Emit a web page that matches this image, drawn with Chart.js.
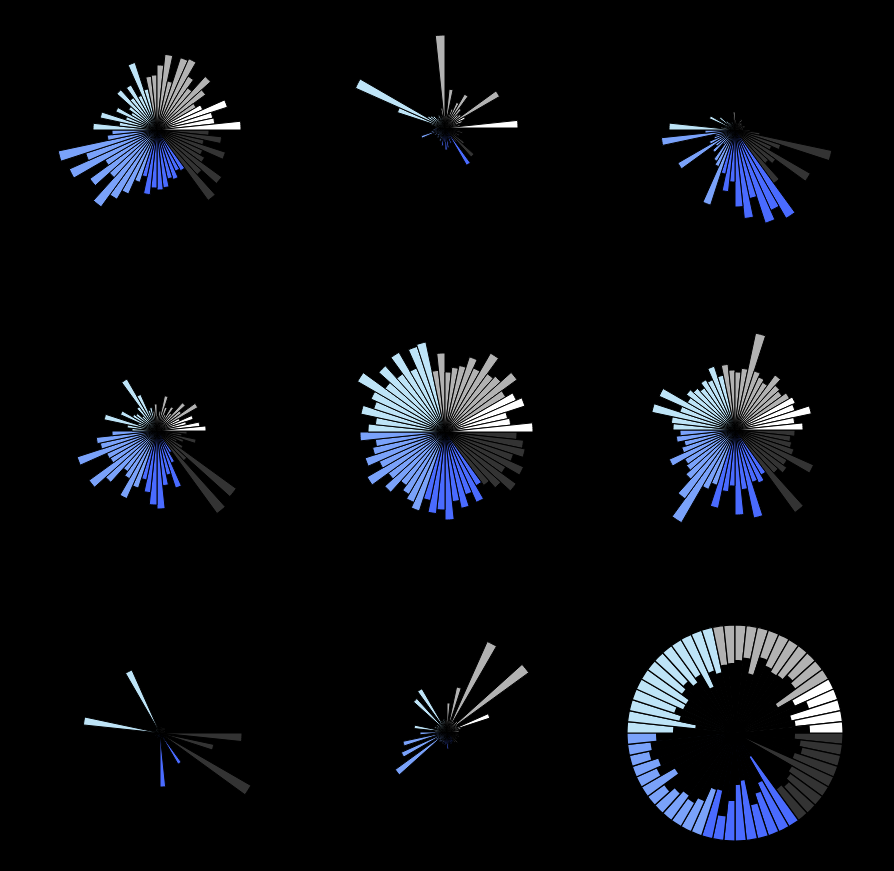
<!DOCTYPE html>
<html>
<head>
<meta charset="utf-8">
<script src="https://cdn.jsdelivr.net/npm/chart.js@4/dist/chart.umd.min.js"></script>
<style>
  html, body { margin: 0; padding: 0; background: #000; }
  #wrap { position: relative; width: 894px; height: 871px; background: #000; overflow: hidden; }
  canvas { position: absolute; }
</style>
</head>
<body>
<div id="wrap"></div>
<script>
// 60 bins of 6 degrees each, counter-clockwise from east
const binCount = 60;
const groupSizes = [5, 12, 13, 12, 9, 9];   // white, gray, light blue, mid blue, blue, dark gray
const groupColors = ['#ffffff', '#b2b2b2', '#bee4f7', '#7aa2fa', '#4a6bff', '#333333'];
const rMax = 108;

const panel1 = [84,58,57,74,50,45,60,72,52,62,78,76,50,76,65,55,54,42,71,38,
                52,40,54,35,30,45,33,58,38,64,45,50,101,75,96,60,83,64,95,80,
                70,55,48,65,58,60,58,50,52,45,47,87,60,80,55,50,72,48,65,52];
const panel2 = [73,15,12,18,22,63,20,18,24,39,28,20,14,39,12,93,20,12,10,14,
                8,12,16,18,20,98,50,14,10,8,10,12,14,25,10,12,8,10,12,9,
                10,14,12,18,14,22,20,10,16,12,43,18,39,24,14,16,12,18,15,10];
const panel3 = [6,8,5,10,7,8,6,9,5,12,6,4,7,5,10,18,6,5,8,4,
                6,9,12,19,6,28,10,8,14,66,30,74,20,22,28,66,24,30,18,36,
                40,79,45,62,52,77,89,70,98,88,102,66,45,50,87,40,48,99,25,15];
const panel4 = [49,43,30,38,25,47,30,38,22,28,18,25,36,20,15,27,20,24,22,40,
                60,30,20,26,28,40,20,54,30,25,45,61,58,84,55,54,84,69,50,55,
                74,60,50,62,74,78,55,45,60,35,25,102,40,98,30,22,28,40,25,30];
const panel5 = [88,66,64,84,78,70,89,75,72,91,70,79,68,65,60,79,62,92,90,70,
                92,72,89,74,101,81,75,86,70,77,85,70,74,84,72,90,70,81,66,72,
                77,83,70,82,78,88,70,78,66,77,62,66,75,88,70,86,72,82,79,72];
const panel6 = [68,60,78,63,66,63,58,60,68,55,58,62,99,62,58,60,66,56,67,55,
                58,52,56,60,55,83,58,85,64,62,55,59,52,56,72,58,60,66,85,107,
                65,58,80,62,56,85,60,90,55,58,52,102,58,64,60,86,62,58,56,60];
const panel7 = [5,4,3,5,4,3,4,6,3,4,5,3,4,6,3,5,4,3,4,69,
                4,3,5,4,3,4,5,3,77,4,3,5,4,3,4,5,3,4,3,5,
                4,3,4,5,3,54,4,3,5,4,36,5,4,6,105,5,4,55,6,82];
const panel8 = [12,10,14,45,11,12,101,14,10,12,99,13,46,11,29,12,10,13,11,12,
                50,11,45,10,12,11,13,10,33,12,27,11,45,12,50,13,64,10,12,11,
                10,12,11,13,12,17,11,10,12,11,10,13,15,11,12,10,13,12,11,10];
// last panel: bars hang inward from the outer ring, values are bar lengths
const panel9 = [33,47,50,30,42,58,33,30,36,37,34,28,47,32,35,38,39,46,42,57,
                40,45,38,42,51,51,44,51,68,46,29,23,20,27,22,38,20,26,30,27,
                33,48,49,24,40,56,60,34,44,53,80,38,35,39,42,104,45,39,42,48];

const panels = [panel1, panel2, panel3, panel4, panel5, panel6, panel7, panel8, panel9];
const centers = [[157,130],[445,128],[735,130],
                 [157,431],[445,432],[735,430],
                 [160,733],[447,732],[735,733]];

// colour of each bin, from the group sizes
const binColors = [];
groupSizes.forEach((n, g) => { for (let k = 0; k < n; k++) binColors.push(groupColors[g]); });

// chart.js goes clockwise, so flip the order and start at east
const flip = arr => arr.slice().reverse();

const wrap = document.getElementById('wrap');
panels.forEach((vals, idx) => {
    const c = document.createElement('canvas');
    const size = rMax * 2;
    c.width = size; c.height = size;
    c.style.width = size + 'px'; c.style.height = size + 'px';
    c.style.left = (centers[idx][0] - rMax) + 'px';
    c.style.top = (centers[idx][1] - rMax) + 'px';
    wrap.appendChild(c);

    let datasets;
    if (idx === 8) {
        datasets = [
            { data: flip(vals.map(v => rMax - v)), backgroundColor: '#000', borderWidth: 0 },
            { data: flip(vals.map(() => rMax)), backgroundColor: flip(binColors), borderColor: '#000', borderWidth: 1.2 }
        ];
    } else {
        datasets = [
            { data: flip(vals), backgroundColor: flip(binColors), borderColor: '#000', borderWidth: 1 }
        ];
    }

    new Chart(c.getContext('2d'), {
        type: 'polarArea',
        data: { labels: vals.map((_, i) => i * 6 + '°'), datasets },
        options: {
            responsive: false,
            animation: false,
            startAngle: 90,
            layout: { padding: 0 },
            plugins: { legend: { display: false }, tooltip: { enabled: false } },
            scales: {
                r: { min: 0, max: rMax, startAngle: 90, display: false,
                     grid: { display: false }, ticks: { display: false } }
            }
        }
    });
});
</script>
</body>
</html>
